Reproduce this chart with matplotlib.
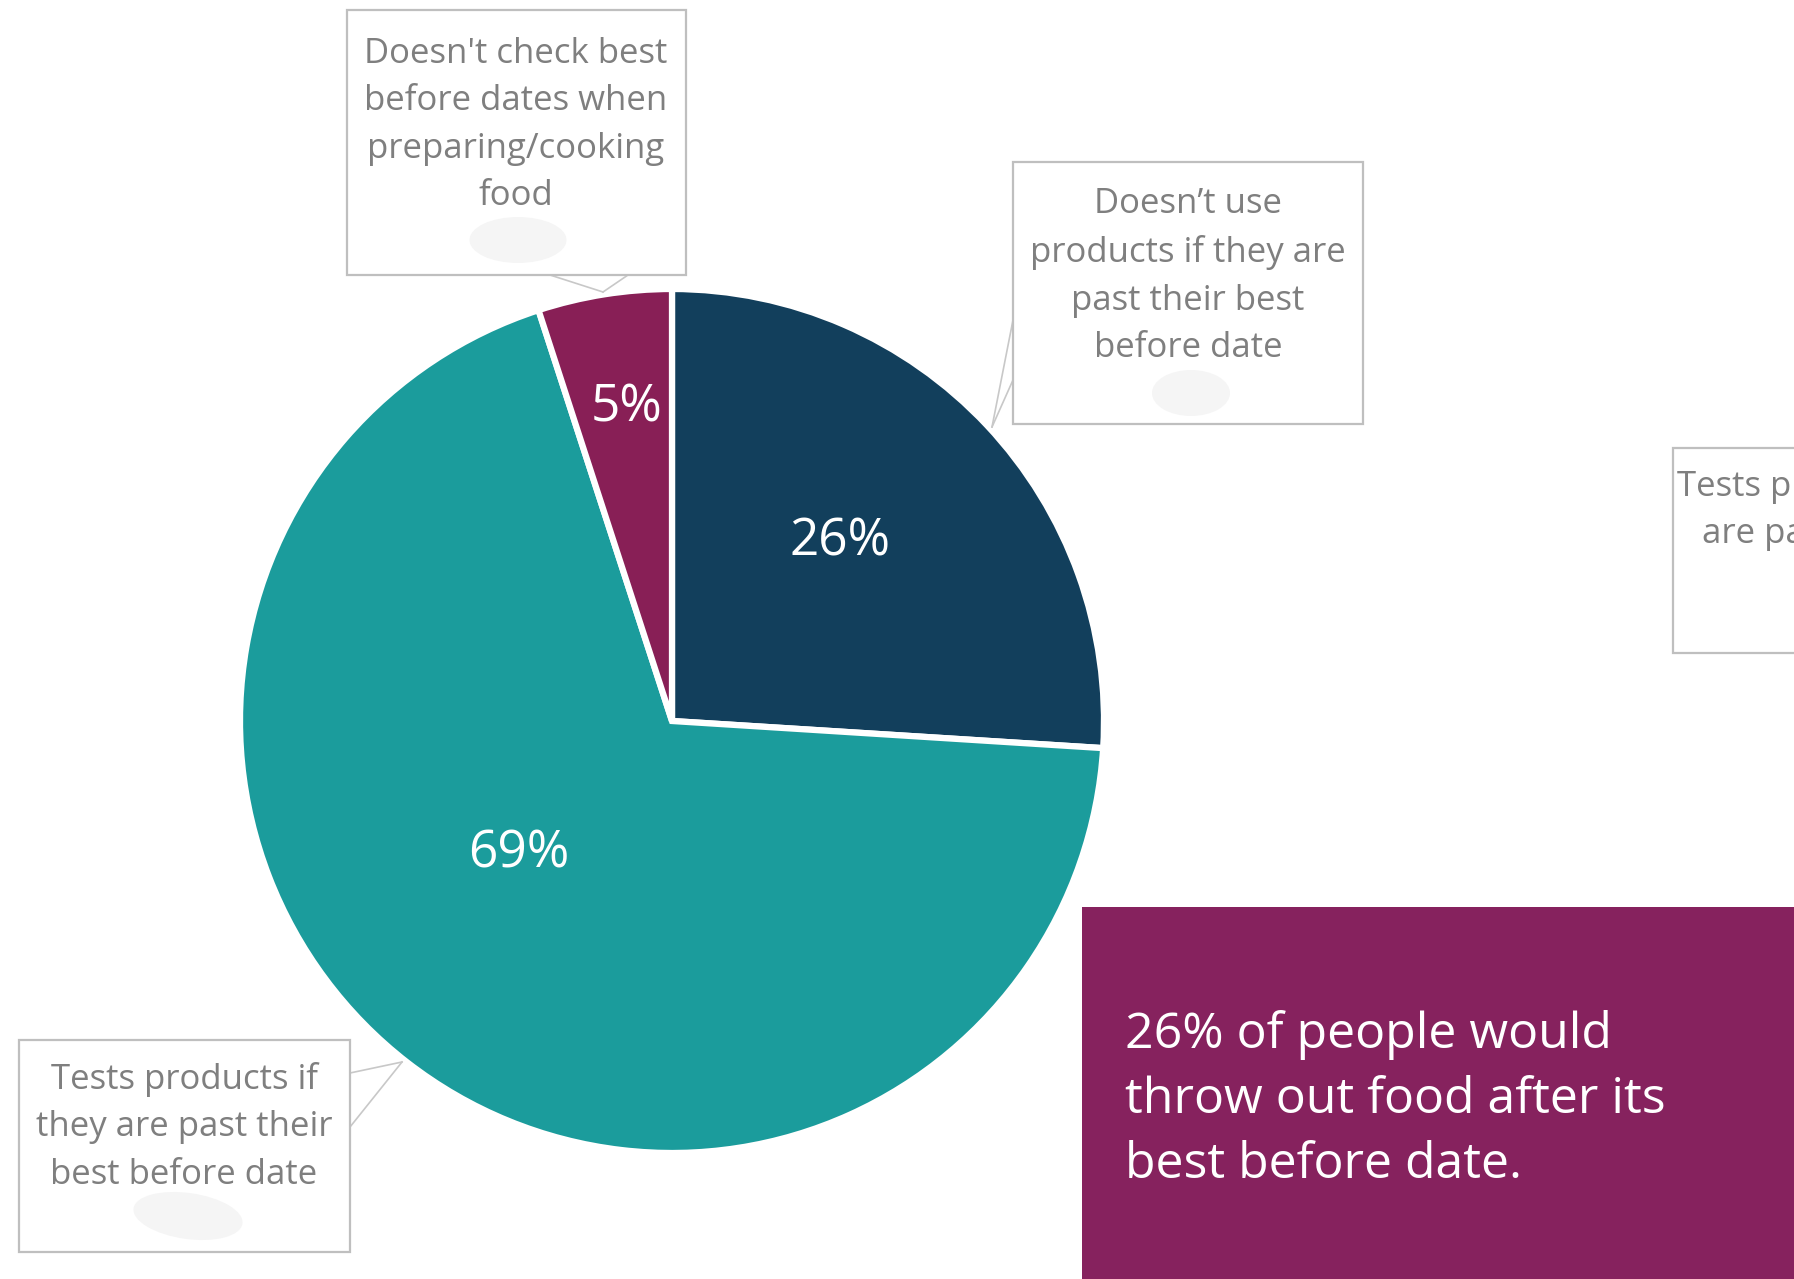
import matplotlib.pyplot as plt
from matplotlib.patches import Rectangle, Ellipse

# share of respondents per behaviour, clockwise from 12 o'clock
shares = [26, 69, 5]
slice_colors = ['#123F5C', '#1B9C9C', '#881F56']
pct_labels = [f'{v}%' for v in shares]
callout_texts = [
    'Doesn\u2019t use\nproducts if they are\npast their best\nbefore date',
    'Tests products if\nthey are past their\nbest before date',
    "Doesn't check best\nbefore dates when\npreparing/cooking\nfood",
]
ghost_text = 'Tests products if they\nare past their best'
headline = '26% of people would\nthrow out food after its\nbest before date.'

W, H = 1794, 1279
fig = plt.figure(figsize=(W / 100, H / 100), dpi=100)
ax = fig.add_axes([0, 0, 1, 1])

# pie in pixel units; y axis gets flipped below so start at -90 and go "counterclock"
cx, cy, r = 672, 721, 432
ax.pie(shares, colors=slice_colors, startangle=-90, counterclock=True,
       center=(cx, cy), radius=r,
       wedgeprops=dict(edgecolor='white', linewidth=4.5))
ax.set_xlim(0, W)
ax.set_ylim(H, 0)
ax.set_aspect('equal')
ax.axis('off')

pct_pos = [(840, 542), (519, 854), (627, 408)]
for txt, (x, y) in zip(pct_labels, pct_pos):
    ax.text(x, y, txt, color='white', fontsize=37, family='Open Sans',
            ha='center', va='center')

box_edge = '#BFBFBF'
label_grey = '#7F7F7F'
lead_grey = '#C8C8C8'


def callout(x0, y0, x1, y1, text, tx, ty, blob, lead_a, lead_b, tip):
    ax.add_patch(Rectangle((x0, y0), x1 - x0, y1 - y0, facecolor='white',
                           edgecolor=box_edge, linewidth=1.6, zorder=3))
    ax.add_patch(Ellipse(blob[:2], blob[2], blob[3], angle=blob[4],
                         facecolor='#F5F5F5', edgecolor='none', zorder=3))
    ax.text(tx, ty, text, color=label_grey, fontsize=25, family='Open Sans',
            ha='center', va='center', linespacing=1.52, zorder=4)
    for p in (lead_a, lead_b):
        ax.plot([p[0], tip[0]], [p[1], tip[1]], color=lead_grey, lw=1.2,
                zorder=2)


callout(1013, 162, 1363, 424, callout_texts[0], 1188, 276,
        (1191, 393, 78, 46, 0), (1013, 320), (1013, 380), (992, 427))
callout(19, 1040, 350, 1252, callout_texts[1], 184, 1127,
        (188, 1216, 110, 46, 8), (350, 1073), (350, 1127), (402, 1062))
callout(347, 10, 686, 275, callout_texts[2], 516, 125,
        (518, 240, 97, 46, 0), (550, 275), (628, 275), (603, 292))

# label box running off the right edge
ax.add_patch(Rectangle((1673, 448), 330, 205, facecolor='white',
                       edgecolor=box_edge, linewidth=1.6, clip_on=False))
ax.text(1850, 510, ghost_text, color=label_grey, fontsize=25,
        family='Open Sans', ha='center', va='center', linespacing=1.52)

# headline panel
ax.add_patch(Rectangle((1082, 907), 760, 420, facecolor='#86225E',
                       edgecolor='none', zorder=5))
ax.text(1125, 1100, headline, color='white', fontsize=36,
        family='Open Sans', ha='left', va='center', linespacing=1.42,
        zorder=6)

fig.savefig('out.png', dpi=100)
